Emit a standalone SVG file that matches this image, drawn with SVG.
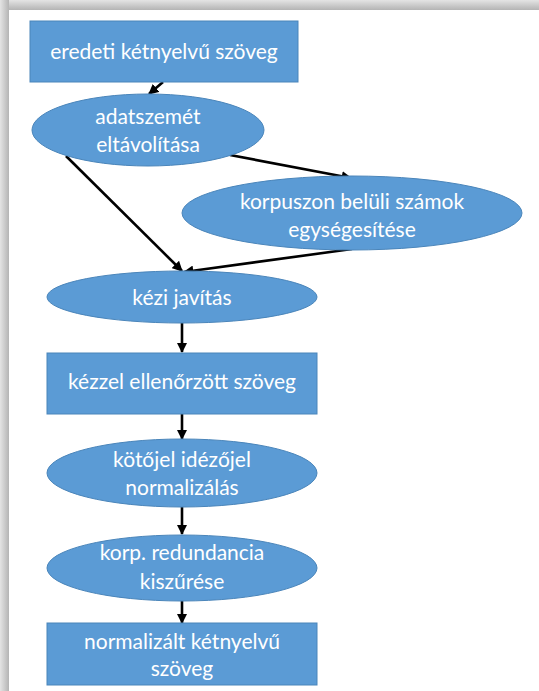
<svg xmlns="http://www.w3.org/2000/svg" width="539" height="691" viewBox="0 0 539 691">
  <defs>
    <linearGradient id="shadeTop" x1="0" y1="0" x2="0" y2="1">
      <stop offset="0" stop-color="#e4e4e4"/>
      <stop offset="1" stop-color="#b4b4b4"/>
    </linearGradient>
    <linearGradient id="shadeLeft" x1="0" y1="0" x2="1" y2="0">
      <stop offset="0" stop-color="#e4e4e4"/>
      <stop offset="1" stop-color="#b4b4b4"/>
    </linearGradient>
    <marker id="arrow" viewBox="0 0 10 10" refX="9" refY="5" markerWidth="4" markerHeight="4" orient="auto" markerUnits="strokeWidth">
      <path d="M0,0 L10,5 L0,10 Z" fill="#000"/>
    </marker>
  </defs>
  <style>
    .shape { fill: #5b9bd5; stroke: #4a85ba; stroke-width: 1; }
    .label { fill: #ffffff; font-family: "Lato", "Open Sans", "Liberation Sans", sans-serif; font-size: 21px; text-anchor: middle; }
    .edge { stroke: #000; stroke-width: 2.6; fill: none; marker-end: url(#arrow); }
  </style>

  <!-- page background with soft frame shadow -->
  <rect x="0" y="0" width="539" height="691" fill="#ffffff"/>
  <rect x="0" y="0" width="539" height="10" fill="url(#shadeTop)"/>
  <rect x="0" y="0" width="9" height="691" fill="url(#shadeLeft)"/>

  <g id="connectors">
    <line class="edge" x1="163" y1="82" x2="149" y2="94"/>
    <line class="edge" x1="230" y1="155" x2="351" y2="178"/>
    <line class="edge" x1="66" y1="156" x2="182" y2="271"/>
    <line class="edge" x1="352" y1="249" x2="184" y2="272"/>
    <line class="edge" x1="182" y1="323" x2="182" y2="352"/>
    <line class="edge" x1="182" y1="414" x2="182" y2="439"/>
    <line class="edge" x1="182" y1="507" x2="182" y2="534"/>
    <line class="edge" x1="182" y1="601" x2="182" y2="623"/>
  </g>

  <g id="n-eredeti">
    <rect class="shape" x="30" y="21" width="268" height="61"/>
    <text class="label" x="164" y="59">eredeti kétnyelvű szöveg</text>
  </g>

  <g id="n-adatszemet">
    <ellipse class="shape" cx="148" cy="130" rx="116" ry="36"/>
    <text class="label" x="148" y="124">adatszemét</text>
    <text class="label" x="148" y="152">eltávolítása</text>
  </g>

  <g id="n-korpuszon">
    <ellipse class="shape" cx="352" cy="213" rx="170" ry="37"/>
    <text class="label" x="352" y="209">korpuszon belüli számok</text>
    <text class="label" x="352" y="237">egységesítése</text>
  </g>

  <g id="n-kezi">
    <ellipse class="shape" cx="182" cy="297" rx="135" ry="26"/>
    <text class="label" x="182" y="305">kézi javítás</text>
  </g>

  <g id="n-kezzel">
    <rect class="shape" x="47" y="353" width="270" height="61"/>
    <text class="label" x="182" y="389">kézzel ellenőrzött szöveg</text>
  </g>

  <g id="n-kotojel">
    <ellipse class="shape" cx="182" cy="473" rx="135" ry="34"/>
    <text class="label" x="182" y="467">kötőjel idézőjel</text>
    <text class="label" x="182" y="495">normalizálás</text>
  </g>

  <g id="n-korp">
    <ellipse class="shape" cx="182" cy="568" rx="135" ry="33"/>
    <text class="label" x="182" y="560">korp. redundancia</text>
    <text class="label" x="182" y="589">kiszűrése</text>
  </g>

  <g id="n-normalizalt">
    <rect class="shape" x="47" y="623" width="270" height="62"/>
    <text class="label" x="182" y="649">normalizált kétnyelvű</text>
    <text class="label" x="182" y="676">szöveg</text>
  </g>
</svg>
